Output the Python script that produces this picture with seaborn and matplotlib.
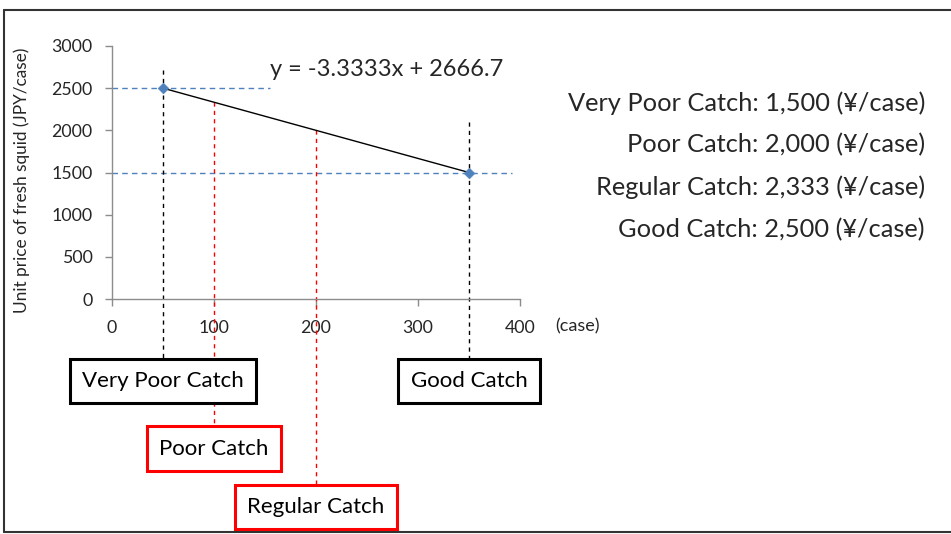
import numpy as np
import pandas as pd
import matplotlib
matplotlib.use("Agg")
import matplotlib.pyplot as plt
from matplotlib.lines import Line2D
import seaborn as sns

# Observed catch volumes and unit prices
catch_cases = [50, 350]
unit_prices = [2500, 1500]

# Catch scenarios marked along the volume axis
scenario_names = ["Very Poor Catch", "Poor Catch", "Regular Catch", "Good Catch"]
scenario_cases = [50, 100, 200, 350]
scenario_colors = ["black", "red", "red", "black"]

# Prices listed on the right
price_names = ["Very Poor Catch", "Poor Catch", "Regular Catch", "Good Catch"]
price_values = [1500, 2000, 2333, 2500]

x_ticks = [0, 100, 200, 300, 400]
y_ticks = [0, 500, 1000, 1500, 2000, 2500, 3000]

sns.set_style("white")
plt.rcParams["font.family"] = ["Lato", "DejaVu Sans"]

df = pd.DataFrame({"cases": catch_cases, "price": unit_prices})
slope, intercept = np.polyfit(df["cases"], df["price"], 1)

fig = plt.figure(figsize=(9.51, 5.34), dpi=100)
W, H = 951, 534
ax = fig.add_axes([112 / W, 1 - 299 / H, 408 / W, 253 / H])

blue = "#4F81BD"

# Horizontal guides at the two observed prices
ax.plot([0, 155], [unit_prices[0]] * 2, ls=(0, (4, 3)), color=blue, lw=1, zorder=1)
ax.plot([0, 392], [unit_prices[1]] * 2, ls=(0, (4, 3)), color=blue, lw=1, zorder=1)

# Vertical guides from the line down to the scenario boxes
box_y = [-972, -1773, -2466, -972]
top_y = [2716, None, None, 2100]
for name, xc, col, by, ty in zip(scenario_names, scenario_cases, scenario_colors, box_y, top_y):
    y_top = ty if ty is not None else slope * xc + intercept
    ax.plot([xc, xc], [y_top, by], ls=(0, (3, 3)), color=col, lw=1,
            clip_on=False, zorder=2)
    ax.text(xc, by, name, ha="center", va="center", fontsize=16, color="black",
            zorder=5, clip_on=False,
            bbox=dict(boxstyle="square,pad=0.55", fc="white", ec=col, lw=2.2))

sns.lineplot(data=df, x="cases", y="price", color="black", lw=1, ax=ax, zorder=3)
sns.scatterplot(data=df, x="cases", y="price", marker="D", s=30, color=blue,
                edgecolor=blue, ax=ax, zorder=4)

ax.text(155, 2716, f"y = {slope:.4f}x + {intercept:.1f}", fontsize=17,
        va="center", ha="left")

ax.set_xlim(0, 400)
ax.set_ylim(0, 3000)
ax.set_xticks(x_ticks)
ax.set_yticks(y_ticks)
ax.tick_params(axis="both", labelsize=12.8, length=5, width=1, color="#8C8C8C",
               direction="out", left=True, bottom=True)
ax.tick_params(axis="x", pad=10)
ax.tick_params(axis="y", pad=9)
for side in ["top", "right"]:
    ax.spines[side].set_visible(False)
for side in ["left", "bottom"]:
    ax.spines[side].set_color("#8C8C8C")
    ax.spines[side].set_linewidth(1)
ax.set_xlabel("")
ax.set_ylabel("Unit price of fresh squid (JPY/case)", fontsize=12.4)
ax.yaxis.set_label_coords(-0.201, 0.47)
ax.text(1.086, -0.107, "(case)", transform=ax.transAxes, fontsize=13,
        ha="left", va="center")

# Price list on the right
line_y = [103, 145, 187, 230]
for name, val, py in zip(price_names, price_values, line_y):
    fig.text(925 / W, 1 - py / H, f"{name}: {val:,} (¥/case)", fontsize=18.3,
             ha="right", va="center")

# Frame around the figure
frame_kw = dict(color="#333333", lw=1.5, transform=fig.transFigure)
fig.add_artist(Line2D([4 / W, 1], [1 - 10 / H, 1 - 10 / H], **frame_kw))
fig.add_artist(Line2D([4 / W, 4 / W], [1 - 10 / H, 1 - 532 / H], **frame_kw))
fig.add_artist(Line2D([4 / W, 1], [1 - 532 / H, 1 - 532 / H], **frame_kw))

fig.savefig("out.png", dpi=100)
